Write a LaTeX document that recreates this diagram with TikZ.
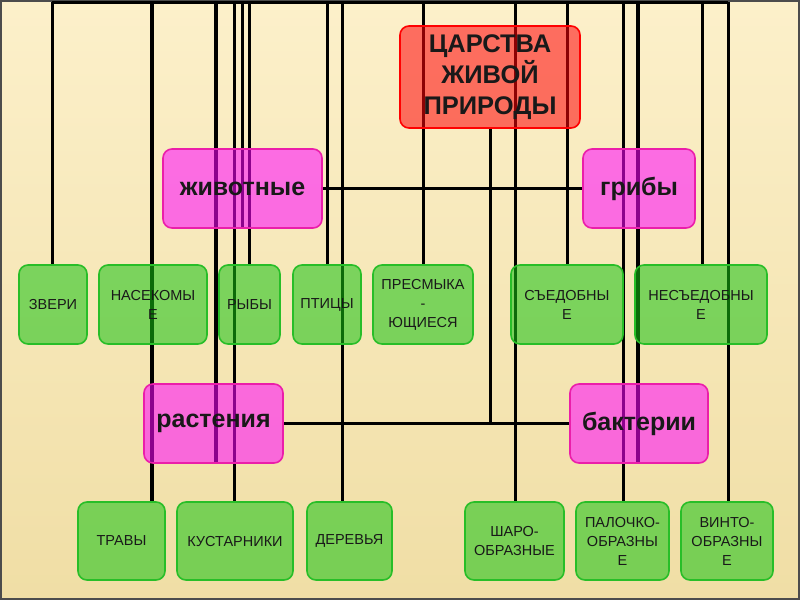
\documentclass[tikz,border=0pt]{standalone}
\usepackage{fontspec}
\setmainfont{Liberation Sans}
\usetikzlibrary{backgrounds}
\definecolor{paper}{RGB}{252,240,202}
\definecolor{paperdark}{RGB}{240,222,165}
\definecolor{rootfill}{RGB}{255,4,9}
\definecolor{groupfill}{RGB}{255,4,255}
\definecolor{groupline}{RGB}{235,30,170}
\definecolor{leaffill}{RGB}{22,195,18}
\definecolor{leafline}{RGB}{40,190,40}
\definecolor{ink}{RGB}{25,25,25}

\begin{document}
\begin{tikzpicture}[x=1pt,y=-1pt,
  box/.style={rounded corners=9pt,line width=1.6pt,fill opacity=.55,text opacity=1,inner sep=0pt,align=center,text=ink},
  root/.style={box,draw=red,fill=rootfill,font=\fontsize{25.5}{31}\selectfont\bfseries,minimum width=180pt,minimum height=102pt},
  group/.style={box,draw=groupline,fill=groupfill,font=\fontsize{25}{30}\selectfont\bfseries,minimum height=79pt},
  leaf/.style={box,draw=leafline,fill=leaffill,font=\fontsize{14.5}{19}\selectfont,minimum height=79pt},
  link/.style={draw=black,line width=3pt}]
% kingdoms
\node[root] (tsar) at (490,77) {ЦАРСТВА\\ЖИВОЙ\\ПРИРОДЫ};
\node[group,minimum width=159pt] (zhiv) at (242.5,188.5) {животные};
\node[group,minimum width=112pt] (grib) at (639,188.5) {грибы};
\node[group,minimum width=139pt] (rast) at (213.5,423.5) {растения};
\node[group,minimum width=138pt] (bakt) at (639,423.5) {бактерии};
% animals and fungi
\node[leaf,minimum width=68pt] (zveri) at (53,304.5) {ЗВЕРИ};
\node[leaf,minimum width=108pt] (nasek) at (153,304.5) {НАСЕКОМЫ\\Е};
\node[leaf,minimum width=61pt] (ryby) at (249.5,304.5) {РЫБЫ};
\node[leaf,minimum width=68pt] (ptitsy) at (327,304.5) {ПТИЦЫ};
\node[leaf,minimum width=100pt] (presm) at (423,304.5) {ПРЕСМЫКА\\-\\ЮЩИЕСЯ};
\node[leaf,minimum width=112pt] (sedob) at (567,304.5) {СЪЕДОБНЫ\\Е};
\node[leaf,minimum width=132pt] (nesedob) at (701,304.5) {НЕСЪЕДОБНЫ\\Е};
% plants and bacteria
\node[leaf,minimum width=87pt,minimum height=78pt] (travy) at (121.5,541) {ТРАВЫ};
\node[leaf,minimum width=116pt,minimum height=78pt] (kust) at (235,541) {КУСТАРНИКИ};
\node[leaf,minimum width=85pt,minimum height=78pt] (derev) at (349.5,541) {ДЕРЕВЬЯ};
\node[leaf,minimum width=99pt,minimum height=78pt] (shar) at (514.5,541) {ШАРО-\\ОБРАЗНЫЕ};
\node[leaf,minimum width=93pt,minimum height=78pt] (paloch) at (622.5,541) {ПАЛОЧКО-\\ОБРАЗНЫ\\Е};
\node[leaf,minimum width=92pt,minimum height=78pt] (vinto) at (727,541) {ВИНТО-\\ОБРАЗНЫ\\Е};
\begin{scope}[on background layer]
\shade[top color=paper,bottom color=paperdark,draw=gray!60!black,line width=2pt] (1,1) rectangle (799,599);
% lines from the top edge
\foreach \x/\n/\a/\w in {52/zveri/north/3,152/travy/north/4,216/rast/south/4,234/kust/north/3,
  242/zhiv/south/3,249/ryby/north/3,327/ptitsy/north/3,342/derev/north/3,423/presm/north/3,
  515/shar/north/3,567/sedob/north/3,623/paloch/north/3,638/bakt/south/4,702/nesedob/north/3,
  728/vinto/north/3}{
  \coordinate (top\n) at (\x,2);
  \draw[link,line width=\w pt] (top\n) -- (top\n |- \n.\a);
}
\draw[link] (topzveri) -- (topvinto);
\draw[link] (zhiv.east) -- (grib.west);
\draw[link] (rast.east) -- (bakt.west);
\coordinate (hub) at (tsar.south |- rast.east);
\draw[link] (tsar.south) -- (hub);
\end{scope}
\end{tikzpicture}
\end{document}
